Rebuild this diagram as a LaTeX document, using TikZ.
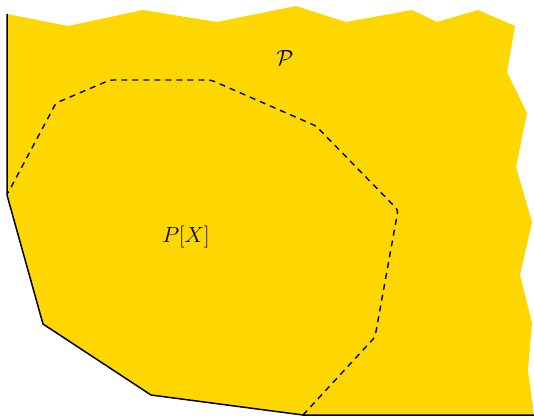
\documentclass[tikz,border=0pt]{standalone}
\usepackage{fix-cm}
\definecolor{polyyellow}{RGB}{255,215,0}
\tikzset{
  region/.style={fill=polyyellow, draw=none},
  edgeline/.style={draw=black, line width=1.5pt, line join=miter},
  subregion/.style={draw=black, line width=1.4pt, dash pattern=on 6pt off 5pt, rounded corners=3pt},
  lbl/.style={inner sep=0pt, font=\fontsize{22}{26}\selectfont}
}
\begin{document}
\begin{tikzpicture}[x=1pt,y=-1pt]
\useasboundingbox (0,0) rectangle (534,417);
% outer region
\fill[region] (7,14) -- (68,26) -- (143,10) -- (217,22) -- (296,6) -- (346,22) -- (412,10)
  -- (437,22) -- (478,10) -- (515,26) -- (507,72) -- (527,113) -- (516,167) -- (532,222)
  -- (520,275) -- (532,323) -- (528,370) -- (534,415) -- (303,415) -- (151,395) -- (43,324)
  -- (7,195) -- cycle;
% bounded edges
\draw[edgeline] (7,14) -- (7,195) -- (43,324) -- (151,395) -- (303,415) -- (534,415);
% sub region
\draw[subregion] (303,415) -- (375,337) -- (398,210) -- (316,126) -- (211,80) -- (110,80)
  -- (56,103) -- (8,193);
\node[lbl] (calP) at (285,58) {$\mathcal{P}$};
\node[lbl] (PX) at (186,237) {$P[X]$};
\end{tikzpicture}
\end{document}
